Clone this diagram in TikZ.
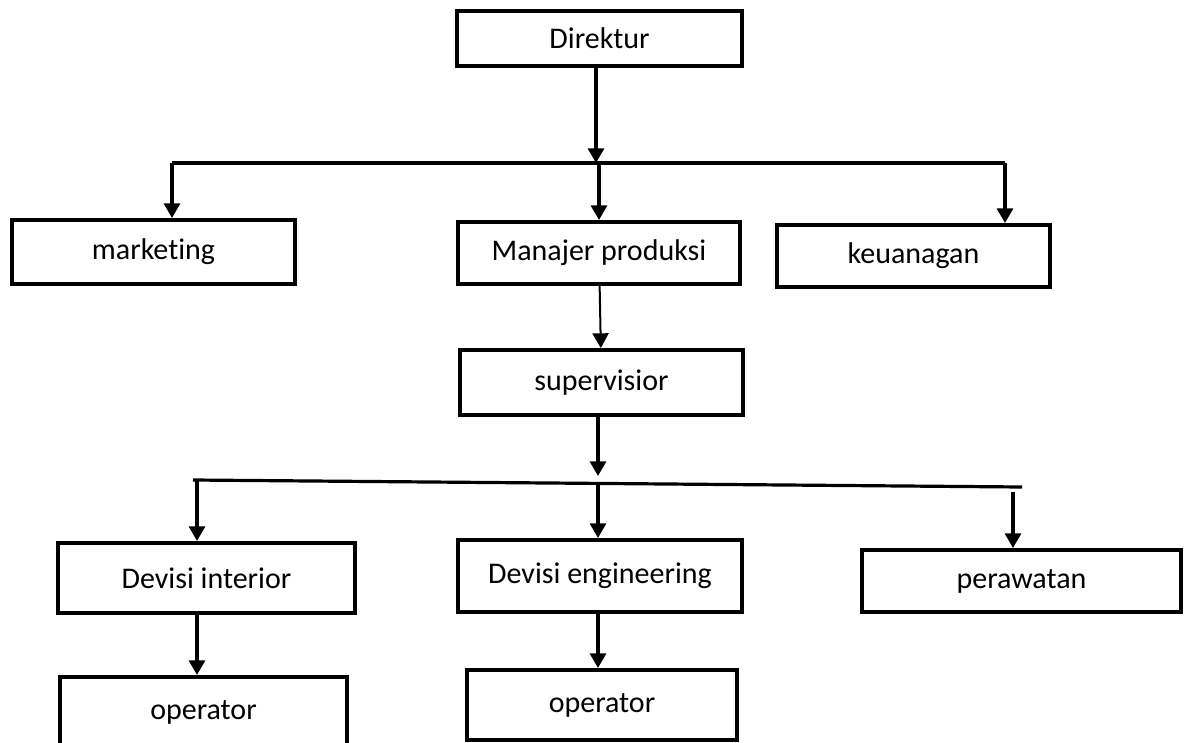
\documentclass[tikz,border=0pt]{standalone}
\usepackage{fontspec}
\setmainfont{Carlito}[Ligatures=NoCommon]
\usetikzlibrary{arrows.meta}
\begin{document}
\begin{tikzpicture}[x=0.75pt,y=-0.75pt,line width=2.4pt,>={Triangle[width=12pt,length=11pt]},
    kotak/.style={draw,line width=3pt,inner sep=0pt,font=\fontsize{22.5}{27}\selectfont}]
    \useasboundingbox (0,0) rectangle (1186,743);
    \clip (0,0) rectangle (1186,743);
    % kotak
    \node[kotak,minimum width=213.75pt,minimum height=41.25pt] (dir) at (599.5,38.5) {Direktur};
    \node[kotak,minimum width=212.25pt,minimum height=48pt] (mkt) at (153.5,252) {marketing};
    \node[kotak,minimum width=211.5pt,minimum height=46.5pt] (mp) at (599,253) {Manajer produksi};
    \node[kotak,minimum width=204.75pt,minimum height=46.5pt] (keu) at (913.5,256) {keuanagan};
    \node[kotak,minimum width=212.25pt,minimum height=48.75pt] (sup) at (601.5,382.5) {supervisior};
    \node[kotak,minimum width=222.75pt,minimum height=52.5pt] (dint) at (206.5,578) {Devisi interior};
    \node[kotak,minimum width=213pt,minimum height=54pt] (deng) at (600,576) {Devisi engineering};
    \node[kotak,minimum width=239.25pt,minimum height=46.5pt] (rwt) at (1021.5,581) {perawatan};
    \node[kotak,minimum width=215.25pt,minimum height=52.5pt] (op1) at (203.5,712) {operator};
    \node[kotak,minimum width=202.5pt,minimum height=52.5pt] (op2) at (602,705) {operator};
    % garis cabang
    \coordinate (b1l) at (172,163);
    \coordinate (b1r) at (1005,163);
    \coordinate (b2l) at (197,480);
    \coordinate (b2r) at (1022,487);
    \coordinate (b2m) at (598,484);
    \coordinate (c3) at (1013,492);
    \draw (b1l) -- (b1r);
    \draw ([xshift=-3pt]b2l) -- (b2r);
    \draw[->] (dir.south -| 596,0) -- (596,163);
    \foreach \k/\t in {b1l/mkt,b1r/keu}{
       \draw[->] (\k) -- (\k |- \t.north);
    }
    \draw[->] (mp |- b1l) -- (mp.north);
    \draw[->,line width=1.5pt] (mp) -- (sup);
    \draw[->] (sup.south -| b2m) -- ([yshift=6pt]b2m);
    \draw[->] (b2l) -- (b2l |- dint.north);
    \draw[->] (b2m) -- (b2m |- deng.north);
    \draw[->] (c3) -- (c3 |- rwt.north);
    \draw[->] (dint.south -| b2l) -- (op1.north -| b2l);
    \draw[->] (deng.south -| b2m) -- (op2.north -| b2m);
\end{tikzpicture}
\end{document}
